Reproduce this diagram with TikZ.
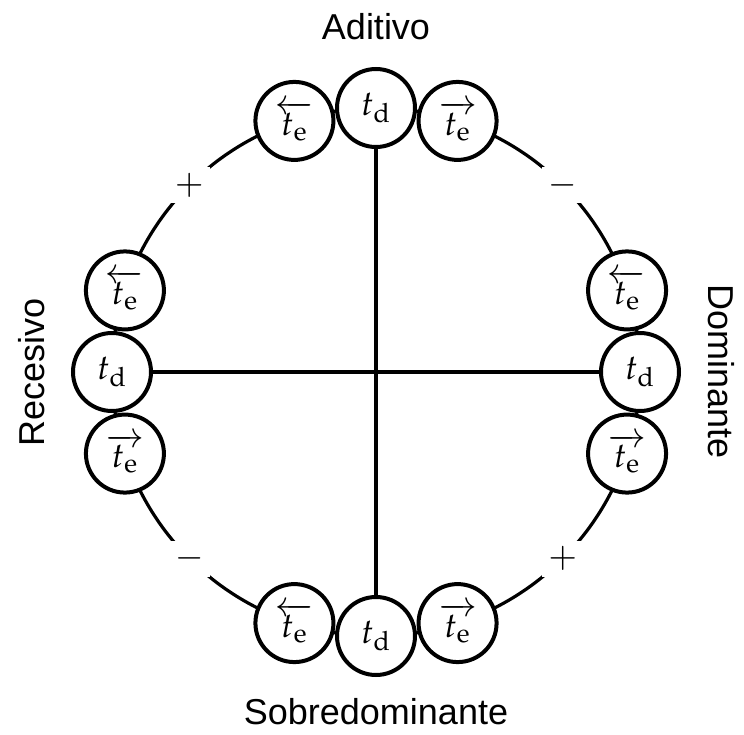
\documentclass[tikz,border=0pt]{standalone}
\usepackage{mathpazo}
\usepackage[no-math]{fontspec}
\newfontfamily\labelfont{Liberation Sans}
\begin{document}
\begin{tikzpicture}[x=0.5pt,y=0.5pt,
  ring/.style={draw, line width=2pt, fill=white, circle, minimum size=39pt,
    inner sep=0pt, font=\fontsize{17.5}{21}\selectfont},
  sign/.style={fill=white, inner sep=3pt, font=\fontsize{17.5}{21}\selectfont},
  axislabel/.style={font=\labelfont\fontsize{18}{22}\selectfont},
  link/.style={line width=1.6pt}]
\useasboundingbox (-376,-362) rectangle (368,372);
% outer ring
\draw[link] (0,0) circle[radius=264];
% sign marks on the diagonals
\node[sign] (s-ul) at (135:264) {$+$};
\node[sign] (s-ur) at (45:264) {$-$};
\node[sign] (s-ll) at (225:264) {$-$};
\node[sign] (s-lr) at (315:264) {$+$};
% top group
\node[ring] (td-top) at (90:264) {$t_{\mathrm{d}}$};
\node[ring] (te-top-l) at (108:264) {$\overleftarrow{t_{\mathrm{e}}}$};
\node[ring] (te-top-r) at (72:264) {$\overrightarrow{t_{\mathrm{e}}}$};
% left group
\node[ring] (td-left) at (180:264) {$t_{\mathrm{d}}$};
\node[ring] (te-left-u) at (162:264) {$\overleftarrow{t_{\mathrm{e}}}$};
\node[ring] (te-left-d) at (198:264) {$\overrightarrow{t_{\mathrm{e}}}$};
% right group
\node[ring] (td-right) at (0:264) {$t_{\mathrm{d}}$};
\node[ring] (te-right-u) at (18:264) {$\overleftarrow{t_{\mathrm{e}}}$};
\node[ring] (te-right-d) at (-18:264) {$\overrightarrow{t_{\mathrm{e}}}$};
% bottom group
\node[ring] (td-bottom) at (270:264) {$t_{\mathrm{d}}$};
\node[ring] (te-bottom-l) at (252:264) {$\overleftarrow{t_{\mathrm{e}}}$};
\node[ring] (te-bottom-r) at (288:264) {$\overrightarrow{t_{\mathrm{e}}}$};
% axes
\draw[link] (td-top) -- (td-bottom);
\draw[link] (td-left) -- (td-right);
% axis labels
\node[axislabel] (l-top) at (0,345) {Aditivo};
\node[axislabel] (l-bottom) at (0,-340) {Sobredominante};
\node[axislabel, rotate=90] (l-left) at (-344,0) {Recesivo};
\node[axislabel, rotate=-90] (l-right) at (345,0) {Dominante};
\end{tikzpicture}
\end{document}
